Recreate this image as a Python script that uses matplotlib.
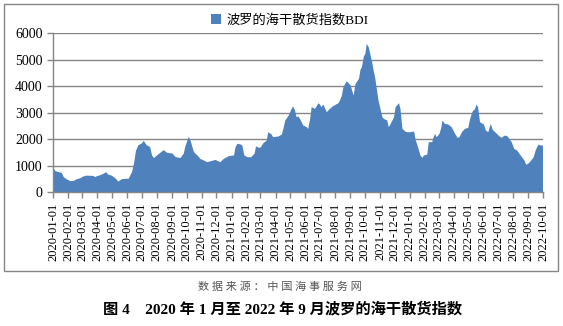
import matplotlib.pyplot as plt
import matplotlib.dates as mdates
from matplotlib.patches import Rectangle
import pandas as pd

# 波罗的海干散货指数BDI（2020-01 至 2022-09）
dates = [
    '2020-01-01', '2020-01-05', '2020-01-12', '2020-01-18', '2020-01-22', '2020-01-29',
    '2020-02-05', '2020-02-12', '2020-02-18', '2020-02-25', '2020-03-02', '2020-03-09',
    '2020-03-16', '2020-03-23', '2020-03-26', '2020-03-30', '2020-04-06', '2020-04-12',
    '2020-04-18', '2020-04-22', '2020-04-29', '2020-05-06', '2020-05-13', '2020-05-20',
    '2020-05-27', '2020-06-03', '2020-06-10', '2020-06-14', '2020-06-18', '2020-06-23',
    '2020-06-30', '2020-07-04', '2020-07-10', '2020-07-17', '2020-07-21', '2020-07-25',
    '2020-07-31', '2020-08-07', '2020-08-14', '2020-08-21', '2020-09-01', '2020-09-07',
    '2020-09-17', '2020-09-24', '2020-09-27', '2020-10-04', '2020-10-08', '2020-10-12',
    '2020-10-15', '2020-10-22', '2020-10-28', '2020-11-04', '2020-11-11', '2020-11-18',
    '2020-11-28', '2020-12-08', '2020-12-15', '2020-12-25', '2021-01-05', '2021-01-08',
    '2021-01-12', '2021-01-19', '2021-01-22', '2021-01-26', '2021-02-02', '2021-02-09',
    '2021-02-16', '2021-02-19', '2021-02-26', '2021-03-01', '2021-03-06', '2021-03-13',
    '2021-03-16', '2021-03-23', '2021-03-26', '2021-04-06', '2021-04-13', '2021-04-16',
    '2021-04-20', '2021-04-27', '2021-05-03', '2021-05-06', '2021-05-10', '2021-05-13',
    '2021-05-17', '2021-05-20', '2021-05-27', '2021-06-03', '2021-06-06', '2021-06-10',
    '2021-06-13', '2021-06-20', '2021-06-27', '2021-06-30', '2021-07-03', '2021-07-07',
    '2021-07-14', '2021-07-20', '2021-07-27', '2021-08-07', '2021-08-10', '2021-08-14',
    '2021-08-17', '2021-08-24', '2021-09-01', '2021-09-04', '2021-09-07', '2021-09-11',
    '2021-09-18', '2021-09-21', '2021-09-24', '2021-09-28', '2021-10-01', '2021-10-04',
    '2021-10-08', '2021-10-11', '2021-10-15', '2021-10-18', '2021-10-21', '2021-10-25',
    '2021-10-28', '2021-11-01', '2021-11-05', '2021-11-08', '2021-11-15', '2021-11-18',
    '2021-11-22', '2021-11-29', '2021-12-02', '2021-12-09', '2021-12-12', '2021-12-16',
    '2021-12-22', '2021-12-26', '2022-01-02', '2022-01-09', '2022-01-12', '2022-01-16',
    '2022-01-19', '2022-01-22', '2022-01-26', '2022-01-29', '2022-02-05', '2022-02-08',
    '2022-02-15', '2022-02-18', '2022-02-21', '2022-02-24', '2022-03-02', '2022-03-06',
    '2022-03-08', '2022-03-13', '2022-03-20', '2022-03-27', '2022-04-03', '2022-04-08',
    '2022-04-12', '2022-04-17', '2022-04-23', '2022-04-30', '2022-05-03', '2022-05-07',
    '2022-05-10', '2022-05-13', '2022-05-17', '2022-05-20', '2022-05-24', '2022-06-01',
    '2022-06-05', '2022-06-10', '2022-06-15', '2022-06-19', '2022-06-24', '2022-07-01',
    '2022-07-07', '2022-07-14', '2022-07-19', '2022-07-23', '2022-07-28', '2022-08-02',
    '2022-08-08', '2022-08-13', '2022-08-18', '2022-08-23', '2022-08-27', '2022-09-01',
    '2022-09-06', '2022-09-11', '2022-09-15', '2022-09-18', '2022-09-21', '2022-09-25',
    '2022-09-30',
]
bdi = [
    920, 805, 767, 742, 580, 490,
    428, 440, 503, 540, 604, 640,
    629, 629, 580, 616, 654, 704,
    767, 679, 640, 553, 415, 503,
    516, 520, 770, 1090, 1570, 1785,
    1850, 1950, 1785, 1720, 1400, 1300,
    1400, 1500, 1600, 1500, 1470, 1340,
    1300, 1470, 1720, 2100, 1950, 1700,
    1520, 1400, 1270, 1210, 1145, 1180,
    1230, 1145, 1270, 1370, 1400, 1710,
    1840, 1810, 1775, 1400, 1330, 1330,
    1460, 1740, 1685, 1710, 1860, 1960,
    2277, 2190, 2088, 2113, 2190, 2400,
    2717, 2906, 3157, 3245, 3094, 2843,
    2868, 2780, 2528, 2465, 2400, 2780,
    3220, 3157, 3371, 3321, 3220, 3321,
    3031, 3150, 3260, 3371, 3472, 3660,
    3975, 4201, 4038, 3849, 3660, 4101,
    4289, 4629, 4730, 5132, 5233, 5610,
    5484, 5233, 4918, 4604, 4352, 3849,
    3472, 3157, 2843, 2780, 2717, 2465,
    2591, 2843, 3220, 3371, 3157, 2403,
    2300, 2277, 2277, 2302, 1987, 1774,
    1585, 1396, 1308, 1396, 1434, 1900,
    1900, 2088, 2214, 2088, 2214, 2465,
    2717, 2591, 2566, 2465, 2214, 2063,
    2088, 2277, 2403, 2440, 2717, 2969,
    3094, 3119, 3321, 3220, 2654, 2566,
    2340, 2277, 2591, 2365, 2277, 2151,
    2063, 2151, 2126, 2025, 1899, 1648,
    1585, 1459, 1333, 1208, 1044, 1107,
    1208, 1333, 1585, 1711, 1811, 1774,
    1774,
]
yticks = [0, 1000, 2000, 3000, 4000, 5000, 6000]

x = pd.to_datetime(dates)
grey = '#868686'
blue = '#4F81BD'
serif_cjk = ['Liberation Serif', 'Noto Sans CJK SC']

fig = plt.figure(figsize=(5.63, 3.26), dpi=100)
ax = fig.add_axes([0.0941, 0.411, 0.8703, 0.4877])

ax.fill_between(x, bdi, 0, color=blue, lw=0, label='波罗的海干散货指数BDI')

ax.set_xlim(pd.Timestamp('2020-01-01'), pd.Timestamp('2022-10-01'))
ax.set_ylim(0, 6000)
ax.set_yticks(yticks)
ax.xaxis.set_major_locator(mdates.MonthLocator())
ax.xaxis.set_major_formatter(mdates.DateFormatter('%Y-%m-%d'))
ax.grid(axis='y', color=grey, lw=1)
ax.set_axisbelow(True)

for s in ['top', 'right']:
    ax.spines[s].set_visible(False)
for s in ['left', 'bottom']:
    ax.spines[s].set_color(grey)
    ax.spines[s].set_linewidth(1)
ax.tick_params(axis='both', colors=grey, length=4, width=1, labelcolor='black')
for lab in ax.get_xticklabels():
    lab.set_rotation(90)
    lab.set_family('Liberation Serif')
    lab.set_fontsize(9)
for lab in ax.get_yticklabels():
    lab.set_family('Liberation Serif')
    lab.set_fontsize(10)

fig.legend(loc='center', bbox_to_anchor=(0.515, 0.939), frameon=False,
           handlelength=0.75, handleheight=0.75, handletextpad=0.4,
           prop={'family': serif_cjk, 'size': 9.5})

# 图表外框
fig.add_artist(Rectangle((4 / 563, 1 - 271 / 326), 554 / 563, 267 / 326,
                         transform=fig.transFigure, fill=False,
                         edgecolor=grey, lw=1))

fig.text(0.498, 0.122, '数 据 来 源 ： 中 国 海 事 服 务 网', ha='center', va='center',
         fontsize=8, color='#555555', family=serif_cjk)
fig.text(0.501, 0.052, '图 4    2020 年 1 月至 2022 年 9 月波罗的海干散货指数',
         ha='center', va='center', fontsize=11, fontweight='bold',
         family=serif_cjk)

fig.savefig('out.png', dpi=100)
